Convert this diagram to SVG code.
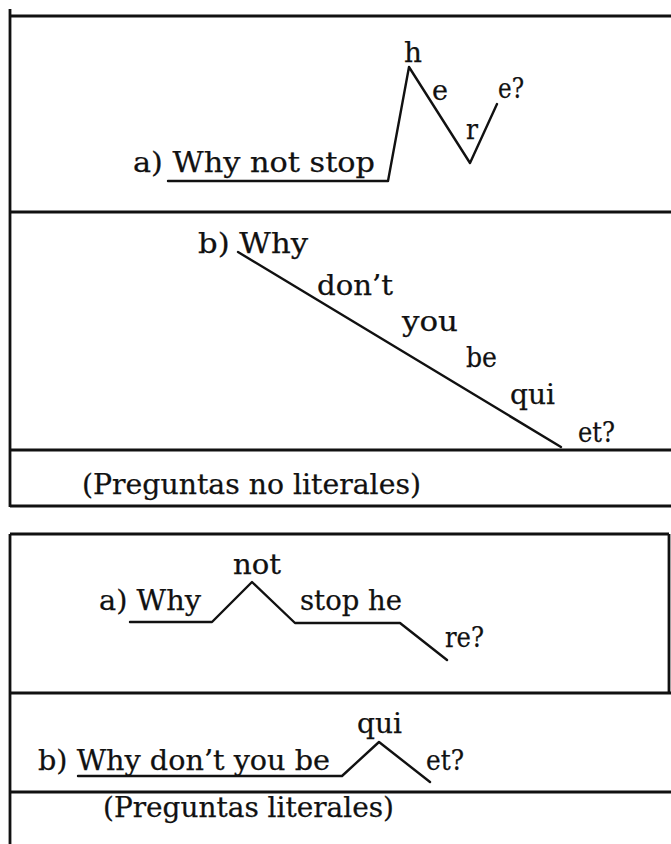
<svg xmlns="http://www.w3.org/2000/svg" width="671" height="844" viewBox="0 0 671 844">
<style>
  .t { font-family: "DejaVu Serif", "Liberation Serif", serif; font-size: 27px; fill: #111; stroke: #111; stroke-width: 0.25; }
  .frame { stroke: #111; stroke-width: 2.8; fill: none; }
  .contour { stroke: #111; stroke-width: 2.4; fill: none; stroke-linejoin: round; stroke-linecap: round; }
</style>
<rect width="671" height="844" fill="#fff"/>

<g id="frames">
  <g id="frame-nonliteral">
    <line class="frame" x1="10" y1="9" x2="10" y2="507"/>
    <line class="frame" x1="10" y1="16" x2="671" y2="16"/>
    <line class="frame" x1="10" y1="212" x2="671" y2="212"/>
    <line class="frame" x1="10" y1="450" x2="671" y2="450"/>
    <line class="frame" x1="10" y1="506" x2="671" y2="506"/>
  </g>
  <g id="frame-literal">
    <line class="frame" x1="10" y1="534" x2="10" y2="844"/>
    <line class="frame" x1="10" y1="534" x2="669" y2="534"/>
    <line class="frame" x1="669" y1="534" x2="669" y2="693"/>
    <line class="frame" x1="10" y1="693" x2="671" y2="693"/>
    <line class="frame" x1="10" y1="792" x2="671" y2="792"/>
  </g>
</g>

<g id="connectors">
  <polyline id="contour-1a" class="contour" points="168,181 388,181 409,67 470,163 497,104"/>
  <line id="contour-1b" class="contour" x1="238" y1="252" x2="561" y2="447"/>
  <polyline id="contour-2a" class="contour" points="130,622 212,622 252,582 295,623 400,623 447,660"/>
  <polyline id="contour-2b" class="contour" points="78,776 342,776 379,742 430,782"/>
</g>

<g id="node-1a">
  <text class="t" x="133" y="172" textLength="242" lengthAdjust="spacingAndGlyphs">a) Why not stop</text>
  <text class="t" x="404" y="62" textLength="18" lengthAdjust="spacingAndGlyphs">h</text>
  <text class="t" x="432" y="100" textLength="16" lengthAdjust="spacingAndGlyphs">e</text>
  <text class="t" x="466" y="139" textLength="12" lengthAdjust="spacingAndGlyphs">r</text>
  <text class="t" x="498" y="98" textLength="26" lengthAdjust="spacingAndGlyphs">e?</text>
</g>

<g id="node-1b">
  <text class="t" x="198" y="253" textLength="110" lengthAdjust="spacingAndGlyphs">b) Why</text>
  <text class="t" x="317" y="295" textLength="76" lengthAdjust="spacingAndGlyphs">don’t</text>
  <text class="t" x="402" y="331" textLength="56" lengthAdjust="spacingAndGlyphs">you</text>
  <text class="t" x="466" y="367" textLength="31" lengthAdjust="spacingAndGlyphs">be</text>
  <text class="t" x="510" y="404" textLength="45" lengthAdjust="spacingAndGlyphs">qui</text>
  <text class="t" x="578" y="442" textLength="37" lengthAdjust="spacingAndGlyphs">et?</text>
</g>

<g id="caption-1">
  <text class="t" x="82" y="494" textLength="339" lengthAdjust="spacingAndGlyphs">(Preguntas no literales)</text>
</g>

<g id="node-2a">
  <text class="t" x="99" y="610" textLength="102" lengthAdjust="spacingAndGlyphs">a) Why</text>
  <text class="t" x="233" y="574" textLength="48" lengthAdjust="spacingAndGlyphs">not</text>
  <text class="t" x="300" y="610" textLength="102" lengthAdjust="spacingAndGlyphs">stop he</text>
  <text class="t" x="445" y="647" textLength="39" lengthAdjust="spacingAndGlyphs">re?</text>
</g>

<g id="node-2b">
  <text class="t" x="38" y="770" textLength="292" lengthAdjust="spacingAndGlyphs">b) Why don’t you be</text>
  <text class="t" x="357" y="733" textLength="45" lengthAdjust="spacingAndGlyphs">qui</text>
  <text class="t" x="426" y="770" textLength="38" lengthAdjust="spacingAndGlyphs">et?</text>
</g>

<g id="caption-2">
  <text class="t" x="103" y="817" textLength="291" lengthAdjust="spacingAndGlyphs">(Preguntas literales)</text>
</g>
</svg>
